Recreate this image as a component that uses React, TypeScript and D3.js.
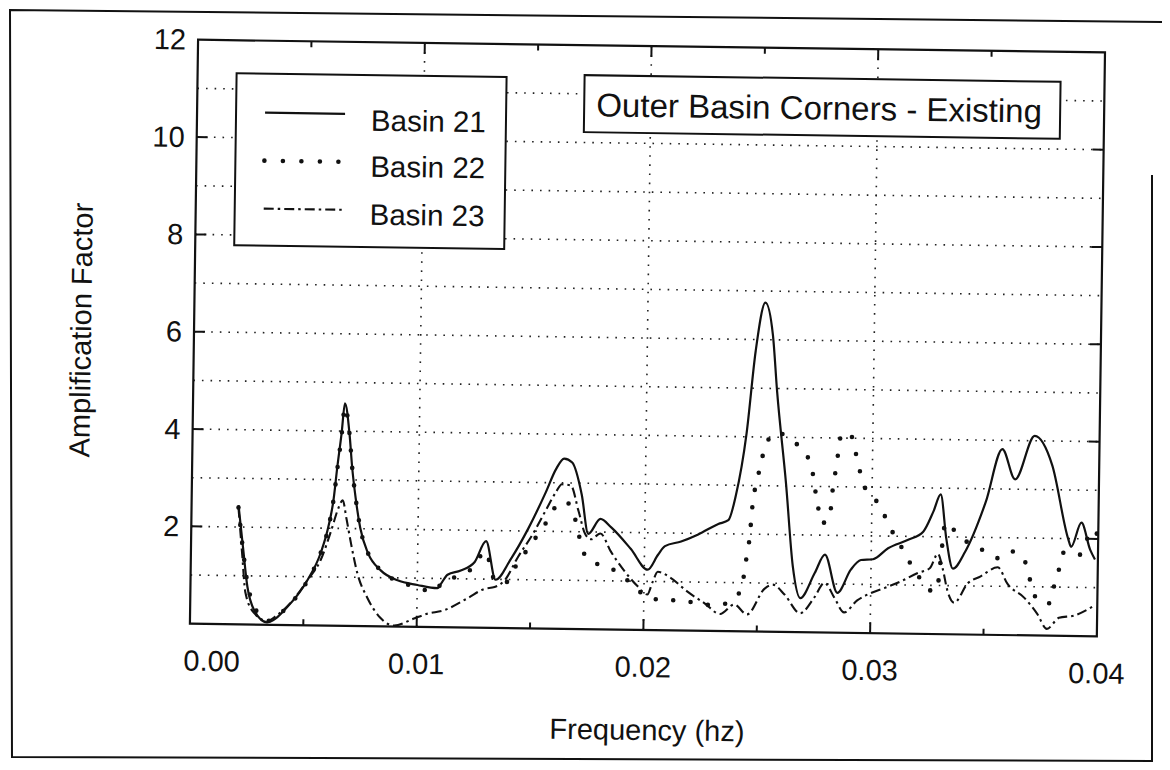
import React from "react";
import * as d3 from "d3";

// ---------- data ----------
const freqTickValues = [0, 0.01, 0.02, 0.03, 0.04];
const freqTickLabels = ["0.00", "0.01", "0.02", "0.03", "0.04"];
const freqGridValues = [0.01, 0.02, 0.03];
const freqMajorTickValues = [0.01, 0.02, 0.03];
const freqMinorTickValues = [0.005, 0.015, 0.025, 0.035];
const ampTickValues = [2, 4, 6, 8, 10, 12];
const ampTickLabels = ["2", "4", "6", "8", "10", "12"];
const ampGridValues = [1, 2, 3, 4, 5, 6, 7, 8, 9, 10, 11];
const seriesNames = ["Basin 21", "Basin 22", "Basin 23"];
const titleText = "Outer Basin Corners - Existing";
const xAxisTitle = "Frequency (hz)";
const yAxisTitle = "Amplification Factor";

const basin21Freq = [
  0.00207, 0.00229, 0.00251, 0.00282, 0.0034, 0.00428, 0.00516, 0.00573, 0.00604, 0.00626,
  0.0064, 0.00657, 0.0067, 0.00692, 0.00706, 0.00723, 0.00745, 0.00781, 0.00838, 0.00913,
  0.01001, 0.01089, 0.01103, 0.01133, 0.01191, 0.01252, 0.01301, 0.01345, 0.01411, 0.01486,
  0.01561, 0.01605, 0.0164, 0.01676, 0.0172, 0.01751, 0.01804, 0.01852, 0.0194, 0.02015,
  0.0206, 0.0209, 0.02161, 0.02236, 0.02324, 0.02368, 0.02399, 0.02443, 0.02478, 0.02518,
  0.02553, 0.02575, 0.0262, 0.02655, 0.0269, 0.02752, 0.02796, 0.02853, 0.02911, 0.02955,
  0.03008, 0.03074, 0.03162, 0.03228, 0.03272, 0.03303, 0.0333, 0.03361, 0.03414, 0.03502,
  0.03572, 0.0363, 0.03714, 0.03793, 0.03868, 0.03881, 0.03925, 0.03965, 0.03987,
];
const basin21Amp = [
  2.45, 1.6, 0.78, 0.3, 0.05, 0.37, 0.93, 1.5, 2.02, 2.6,
  3.25, 3.95, 4.57, 3.95, 3.25, 2.63, 2.02, 1.5, 1.15, 0.95,
  0.86, 0.8, 0.88, 1.08, 1.17, 1.35, 1.78, 0.99, 1.42, 2.05,
  2.8, 3.28, 3.5, 3.42, 2.76, 1.96, 2.27, 2.1, 1.66, 1.24,
  1.55, 1.73, 1.83, 1.98, 2.2, 2.28, 2.78, 4.07, 5.76, 6.76,
  6.1, 4.94, 3.05, 1.35, 0.7, 1.22, 1.6, 0.82, 1.3, 1.5,
  1.52, 1.75, 1.93, 2.1, 2.52, 2.87, 1.97, 1.35, 1.7, 2.73,
  3.82, 3.2, 4.1, 3.5, 1.99, 1.83, 2.33, 1.78, 1.58,
];

const basin22Freq = [
  0.00207, 0.00229, 0.00251, 0.00282, 0.0034, 0.00428, 0.00516, 0.00573, 0.00604, 0.00626,
  0.0064, 0.00657, 0.0067, 0.00692, 0.00706, 0.00723, 0.00745, 0.00781, 0.00838, 0.00913,
  0.01001, 0.01067, 0.0112, 0.01186, 0.01252, 0.01297, 0.01345, 0.01385, 0.01433, 0.01473,
  0.01517, 0.01561, 0.01596, 0.01649, 0.01693, 0.01729, 0.01773, 0.01839, 0.01896, 0.01958,
  0.02015, 0.02095, 0.02165, 0.02245, 0.02324, 0.02395, 0.02434, 0.02443, 0.02456, 0.02465,
  0.0247, 0.02478, 0.02492, 0.02509, 0.02527, 0.02575, 0.02646, 0.02703, 0.02734, 0.02747,
  0.02761, 0.02778, 0.02805, 0.02822, 0.02827, 0.0284, 0.02849, 0.02862, 0.02902, 0.02924,
  0.02941, 0.02964, 0.03012, 0.03052, 0.03087, 0.03118, 0.03166, 0.03215, 0.03259, 0.0329,
  0.03312, 0.03325, 0.03352, 0.03382, 0.0344, 0.03497, 0.03568, 0.03625, 0.03678, 0.037,
  0.03722, 0.03753, 0.03784, 0.03806, 0.03828, 0.0385, 0.03885, 0.03916, 0.03947, 0.03973,
  0.03995,
];
const basin22Amp = [
  2.4, 1.55, 0.85, 0.38, 0.08, 0.37, 0.92, 1.5, 2.0, 2.6,
  3.2, 3.9, 4.5, 3.95, 3.25, 2.63, 2.02, 1.5, 1.15, 0.93,
  0.82, 0.72, 0.96, 1.06, 1.27, 1.58, 0.95, 0.92, 1.27, 1.55,
  1.85, 2.15, 2.45, 2.62, 2.25, 1.6, 1.37, 1.3, 1.12, 0.9,
  0.67, 0.62, 0.62, 0.55, 0.53, 0.66, 0.94, 1.3, 1.68, 2.04,
  2.4, 2.77, 3.1, 3.48, 3.82, 4.1, 3.92, 3.68, 3.35, 2.98,
  2.63, 2.25, 2.29, 2.66, 3.0, 3.37, 3.73, 4.1, 4.07, 3.73,
  3.4, 3.03, 2.77, 2.46, 2.13, 1.9, 1.5, 1.15, 0.9, 0.88,
  1.8, 2.3, 2.2, 2.05, 1.85, 1.73, 1.57, 1.72, 1.52, 1.17,
  0.83, 0.68, 0.65, 0.98, 1.35, 1.72, 1.7, 1.66, 1.95, 2.2,
  2.1,
];

const basin23Freq = [
  0.00207, 0.00225, 0.00243, 0.00282, 0.0034, 0.00384, 0.00459, 0.00516, 0.00573, 0.00617,
  0.00648, 0.00666, 0.00684, 0.00706, 0.00736, 0.00781, 0.00838, 0.009, 0.00988, 0.01045,
  0.0112, 0.01222, 0.01297, 0.01341, 0.01385, 0.01442, 0.01508, 0.01561, 0.01605, 0.01632,
  0.01671, 0.01707, 0.01738, 0.01764, 0.01804, 0.01852, 0.01914, 0.01971, 0.02015, 0.02037,
  0.0206, 0.02117, 0.02192, 0.02267, 0.02337, 0.02399, 0.02456, 0.02531, 0.02567, 0.0262,
  0.0269, 0.02752, 0.02796, 0.0284, 0.02884, 0.02941, 0.02999, 0.0306, 0.03131, 0.03206,
  0.03259, 0.03294, 0.03316, 0.03338, 0.03369, 0.03427, 0.03484, 0.03559, 0.03603, 0.03678,
  0.03735, 0.03779, 0.03832, 0.03898, 0.03987,
];
const basin23Amp = [
  2.4, 1.5, 0.65, 0.24, 0.08, 0.2, 0.55, 0.93, 1.35, 1.95,
  2.42, 2.58, 2.2, 1.68, 1.07, 0.58, 0.18, 0.02, 0.17, 0.27,
  0.35, 0.6, 0.8, 0.84, 0.98, 1.46, 1.95, 2.42, 2.8, 2.97,
  2.95, 2.42, 1.95, 1.85, 1.97, 1.6, 1.2, 0.9, 0.73, 0.98,
  1.2, 1.08, 0.8, 0.57, 0.35, 0.55, 0.35, 0.88, 0.97, 0.77,
  0.39, 0.72, 1.02, 0.72, 0.42, 0.67, 0.82, 0.93, 1.07, 1.25,
  1.35, 1.65, 1.35, 0.9, 0.65, 1.05, 1.2, 1.39, 1.05, 0.77,
  0.45, 0.14, 0.37, 0.42, 0.63,
];

// ---------- component ----------
const FONT = "'Liberation Sans', Arial, Helvetica, sans-serif";

export default function App() {
  const W = 1170;
  const H = 770;
  const left = 194, right = 1101, top = 46, bottom = 630;

  const x = d3.scaleLinear().domain([0, 0.04]).range([left, right]);
  const y = d3.scaleLinear().domain([0, 12]).range([bottom, top]);

  const line = d3
    .line<[number, number]>()
    .x((d) => x(d[0]))
    .y((d) => y(d[1]))
    .curve(d3.curveMonotoneX);

  const zip = (f: number[], a: number[]) => f.map((v, i) => [v, a[i]] as [number, number]);

  const styles = [
    { stroke: "#111", strokeWidth: 2.2, dash: undefined as string | undefined, cap: "butt" },
    { stroke: "#111", strokeWidth: 4.6, dash: "0 17.5", cap: "round" },
    { stroke: "#111", strokeWidth: 2.1, dash: "10 4 2.5 4", cap: "butt" },
  ];
  const series = [
    zip(basin21Freq, basin21Amp),
    zip(basin22Freq, basin22Amp),
    zip(basin23Freq, basin23Amp),
  ];

  // legend layout
  const lg = { x0: 233, y0: 79, x1: 503, y1: 251 };
  const lgLineX0 = 262, lgLineX1 = 342, lgTextX = 368;
  const lgLineY = [118, 166, 214];
  const lgTextY = [124, 170, 218];
  const legendDash = ["", "0 18.5", "10 4 2.5 4"];

  const tb = { x0: 581, y0: 76, x1: 1057, y1: 133 };

  return (
    <svg
      width={W}
      height={H}
      viewBox={`0 0 ${W} ${H}`}
      style={{ position: "absolute", left: 0, top: 0, background: "#fff" }}
      fontFamily={FONT}
    >
      <rect x={0} y={0} width={W} height={H} fill="#fff" />
      {/* page frame */}
      <path
        d="M1162,22 L10,10 L12,757 L1152,761 L1152,175"
        fill="none"
        stroke="#111"
        strokeWidth={2}
      />
      <g transform="rotate(0.8 645 335)">
        <defs>
          <clipPath id="plotClip">
            <rect x={left} y={top} width={right - left} height={bottom - top} />
          </clipPath>
        </defs>

        {/* grid */}
        {ampGridValues.map((v) => (
          <line
            key={"hg" + v}
            x1={left}
            x2={right}
            y1={y(v)}
            y2={y(v)}
            stroke="#222"
            strokeWidth={1.6}
            strokeDasharray="1.6 7"
          />
        ))}
        {freqGridValues.map((v) => (
          <line
            key={"vg" + v}
            x1={x(v)}
            x2={x(v)}
            y1={top}
            y2={bottom}
            stroke="#222"
            strokeWidth={1.6}
            strokeDasharray="1.6 7.5"
          />
        ))}

        {/* ticks */}
        {ampTickValues.slice(0, -1).map((v) => (
          <g key={"yt" + v}>
            <line x1={left} x2={left + 11} y1={y(v)} y2={y(v)} stroke="#111" strokeWidth={2} />
            <line x1={right - 11} x2={right} y1={y(v)} y2={y(v)} stroke="#111" strokeWidth={2} />
          </g>
        ))}
        {freqMajorTickValues.map((v) => (
          <g key={"xT" + v}>
            <line x1={x(v)} x2={x(v)} y1={bottom} y2={bottom - 11} stroke="#111" strokeWidth={2} />
            <line x1={x(v)} x2={x(v)} y1={top} y2={top + 11} stroke="#111" strokeWidth={2} />
          </g>
        ))}
        {freqMinorTickValues.map((v) => (
          <g key={"xt" + v}>
            <line x1={x(v)} x2={x(v)} y1={bottom} y2={bottom - 6} stroke="#111" strokeWidth={2} />
            <line x1={x(v)} x2={x(v)} y1={top} y2={top + 6} stroke="#111" strokeWidth={2} />
          </g>
        ))}

        {/* curves */}
        <g clipPath="url(#plotClip)">
          {series.map((s, i) => (
            <path
              key={"s" + i}
              d={line(s) || ""}
              fill="none"
              stroke={styles[i].stroke}
              strokeWidth={styles[i].strokeWidth}
              strokeDasharray={styles[i].dash}
              strokeLinecap={styles[i].cap as any}
              strokeLinejoin="round"
            />
          ))}
        </g>

        {/* frame */}
        <rect
          x={left}
          y={top}
          width={right - left}
          height={bottom - top}
          fill="none"
          stroke="#111"
          strokeWidth={2.2}
        />

        {/* legend */}
        <rect
          x={lg.x0}
          y={lg.y0}
          width={lg.x1 - lg.x0}
          height={lg.y1 - lg.y0}
          fill="#fff"
          stroke="#111"
          strokeWidth={2}
        />
        {seriesNames.map((name, i) => (
          <g key={"lg" + i}>
            <line
              x1={lgLineX0}
              x2={lgLineX1}
              y1={lgLineY[i]}
              y2={lgLineY[i]}
              stroke="#111"
              strokeWidth={styles[i].strokeWidth}
              strokeDasharray={legendDash[i] || undefined}
              strokeLinecap={styles[i].cap as any}
            />
            <text
              x={lgTextX}
              y={lgTextY[i]}
              dominantBaseline="central"
              fontSize={29.5}
              fill="#111"
            >
              {name}
            </text>
          </g>
        ))}

        {/* title box */}
        <rect
          x={tb.x0}
          y={tb.y0}
          width={tb.x1 - tb.x0}
          height={tb.y1 - tb.y0}
          fill="#fff"
          stroke="#111"
          strokeWidth={2}
        />
        <text
          x={(tb.x0 + tb.x1) / 2 - 3}
          y={(tb.y0 + tb.y1) / 2 + 1}
          textAnchor="middle"
          dominantBaseline="central"
          fontSize={33}
          fill="#111"
        >
          {titleText}
        </text>

        {/* axis labels */}
        {ampTickValues.map((v, i) => (
          <text
            key={"yl" + v}
            x={left - 12}
            y={y(v)}
            textAnchor="end"
            dominantBaseline="central"
            fontSize={29}
            fill="#111"
          >
            {ampTickLabels[i]}
          </text>
        ))}
        {freqTickValues.map((v, i) => (
          <text
            key={"xl" + v}
            x={i === 0 ? x(v) - 6 : x(v)}
            y={bottom + 37}
            textAnchor={i === 0 ? "start" : "middle"}
            dominantBaseline="central"
            fontSize={29}
            fill="#111"
          >
            {freqTickLabels[i]}
          </text>
        ))}
        <text
          x={(left + right) / 2 + 5}
          y={730}
          textAnchor="middle"
          dominantBaseline="central"
          fontSize={29}
          fill="#111"
        >
          {xAxisTitle}
        </text>
        <text
          transform={`translate(81, ${(top + bottom) / 2}) rotate(-90)`}
          textAnchor="middle"
          dominantBaseline="central"
          fontSize={29}
          fill="#111"
        >
          {yAxisTitle}
        </text>
      </g>
    </svg>
  );
}
